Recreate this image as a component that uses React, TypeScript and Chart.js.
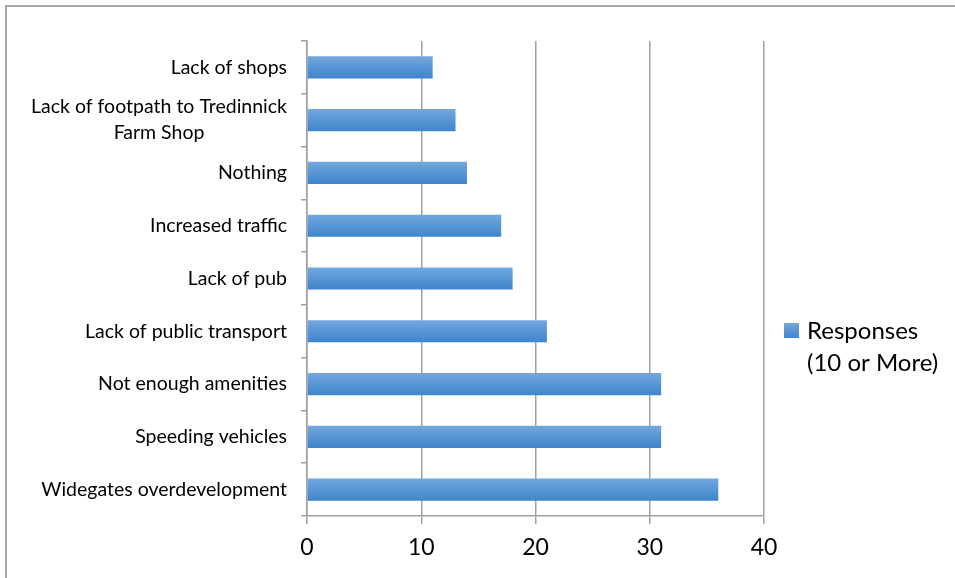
import React, { useEffect, useRef } from "react";
import { Chart, registerables } from "chart.js";

Chart.register(...registerables);

const categories: (string | string[])[] = [
  "Lack of shops",
  ["Lack of footpath to Tredinnick", "Farm Shop"],
  "Nothing",
  "Increased traffic",
  "Lack of pub",
  "Lack of public transport",
  "Not enough amenities",
  "Speeding vehicles",
  "Widegates overdevelopment",
];
const responses = [11, 13, 14, 17, 18, 21, 31, 31, 36];
const seriesLabel = ["Responses", "(10 or More)"];
const xTicks = [0, 10, 20, 30, 40];

const FONT = "Lato, 'Open Sans', sans-serif";
const GRID = "#a0a0a0";

const makeGradient = (ctx: CanvasRenderingContext2D, y0: number, y1: number) => {
  const g = ctx.createLinearGradient(0, y0, 0, y1);
  g.addColorStop(0, "#72a8de");
  g.addColorStop(1, "#3f84cb");
  return g;
};

const drawPlugin = {
  id: "customText",
  afterDraw(chart: any) {
    const ctx: CanvasRenderingContext2D = chart.ctx;
    const ys = chart.scales.y;
    const area = chart.chartArea;
    ctx.save();
    ctx.fillStyle = "#000";
    ctx.textBaseline = "middle";
    ctx.textAlign = "center";
    ctx.font = `19.5px ${FONT}`;
    const right = area.left - 20;
    (chart.data.labels as (string | string[])[]).forEach((lab, i) => {
      const lines = Array.isArray(lab) ? lab : [lab];
      const w = Math.max(...lines.map((l) => ctx.measureText(l).width));
      const cx = right - w / 2;
      const yc = ys.getPixelForTick(i);
      const lh = 26;
      lines.forEach((l, j) => ctx.fillText(l, cx, yc + (j - (lines.length - 1) / 2) * lh));
    });
    // legend
    const lx = area.right + 20;
    const ly = 323;
    ctx.fillStyle = makeGradient(ctx, ly, ly + 15);
    ctx.fillRect(lx, ly, 15, 15);
    ctx.fillStyle = "#000";
    ctx.textAlign = "left";
    ctx.font = `24px ${FONT}`;
    seriesLabel.forEach((t, j) => ctx.fillText(t, lx + 23, ly + 8 + j * 32));
    ctx.restore();
  },
};

export default function App() {
  const ref = useRef<HTMLCanvasElement>(null);
  useEffect(() => {
    if (!ref.current) return;
    const chart = new Chart(ref.current, {
      type: "bar",
      data: {
        labels: categories as any,
        datasets: [
          {
            label: seriesLabel.join(" "),
            data: responses,
            backgroundColor: (c: any) => {
              const ys = c.chart.scales?.y;
              if (!ys || c.dataIndex === undefined) return "#5a96d6";
              const yc = ys.getPixelForValue(c.dataIndex);
              if (!Number.isFinite(yc)) return "#5a96d6";
              return makeGradient(c.chart.ctx, yc - 11, yc + 11);
            },
            borderWidth: 0,
            barPercentage: 0.42,
            categoryPercentage: 1,
          },
        ],
      },
      options: {
        indexAxis: "y",
        animation: false,
        responsive: true,
        maintainAspectRatio: false,
        layout: { padding: { left: 0, top: 41, right: 191, bottom: 0 } },
        plugins: { legend: { display: false }, tooltip: { enabled: false } },
        scales: {
          x: {
            type: "linear",
            position: "bottom",
            min: 0,
            max: 40,
            afterBuildTicks: (s: any) => {
              s.ticks = xTicks.map((v) => ({ value: v }));
            },
            afterFit: (s: any) => {
              s.height = 62;
            },
            ticks: { font: { size: 23, family: FONT }, color: "#000", padding: 10 },
            grid: { color: GRID, lineWidth: 1.5, tickLength: 8, drawTicks: true },
            border: { color: GRID, width: 1.5 },
          },
          y: {
            type: "category",
            afterFit: (s: any) => {
              s.width = 307;
            },
            ticks: { display: false },
            grid: { drawOnChartArea: false, color: GRID, lineWidth: 1.5, tickLength: 6, offset: true },
            border: { color: GRID, width: 1.5 },
          },
        },
      },
      plugins: [drawPlugin],
    });
    return () => chart.destroy();
  }, []);
  return (
    <div style={{ position: "fixed", left: 0, top: 0, width: 955, height: 578, overflow: "hidden", background: "#fff" }}>
      <div
        style={{
          position: "absolute",
          left: 5,
          top: 5,
          width: 1200,
          height: 800,
          borderLeft: "2px solid #a6a6a6",
          borderTop: "2px solid #a6a6a6",
        }}
      />
      <div style={{ position: "absolute", left: 0, top: 0, width: 955, height: 578 }}>
        <canvas ref={ref} />
      </div>
    </div>
  );
}
